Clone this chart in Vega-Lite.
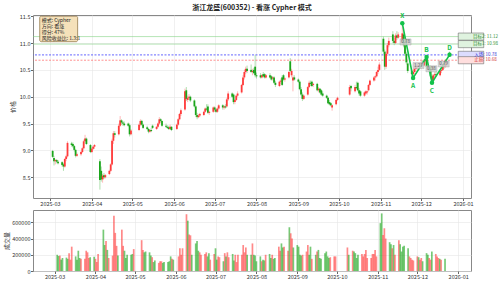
{
"$schema": "https://vega.github.io/schema/vega-lite/v6.json",
"padding": {"left": 3, "top": 3, "right": 2, "bottom": 1},
"spacing": 2,
"config": {
  "font": "Noto Sans CJK SC",
  "view": {"stroke": "#888", "strokeWidth": 1},
  "axis": {"labelFontSize": 5.5, "labelColor": "#333", "tickColor": "#666", "tickSize": 2.5, "domain": false, "gridColor": "#e6e6e6", "gridWidth": 0.6, "labelPadding": 0.5, "labelOverlap": false, "titleFontSize": 6, "titleFontWeight": "normal", "titleColor": "#333"}
},
"datasets": {
"ohlc": [
{"d":"2025-03-03","o":8.99,"h":9.01,"l":8.86,"c":8.88,"v":200000},
{"d":"2025-03-04","o":8.86,"h":8.90,"l":8.72,"c":8.80,"v":185000},
{"d":"2025-03-05","o":8.80,"h":8.84,"l":8.74,"c":8.82,"v":190000},
{"d":"2025-03-06","o":8.82,"h":8.84,"l":8.76,"c":8.79,"v":140000},
{"d":"2025-03-07","o":8.79,"h":8.82,"l":8.74,"c":8.76,"v":160000},
{"d":"2025-03-10","o":8.78,"h":8.80,"l":8.70,"c":8.73,"v":165000},
{"d":"2025-03-11","o":8.74,"h":8.77,"l":8.62,"c":8.70,"v":150000},
{"d":"2025-03-12","o":8.70,"h":8.86,"l":8.68,"c":8.84,"v":220000},
{"d":"2025-03-13","o":8.84,"h":8.92,"l":8.80,"c":8.89,"v":140000},
{"d":"2025-03-14","o":8.89,"h":9.17,"l":8.87,"c":9.14,"v":300000},
{"d":"2025-03-17","o":9.13,"h":9.16,"l":9.07,"c":9.10,"v":180000},
{"d":"2025-03-18","o":9.12,"h":9.15,"l":9.05,"c":9.08,"v":140000},
{"d":"2025-03-19","o":9.08,"h":9.10,"l":8.98,"c":9.01,"v":250000},
{"d":"2025-03-20","o":9.01,"h":9.03,"l":8.87,"c":8.90,"v":160000},
{"d":"2025-03-21","o":8.90,"h":8.96,"l":8.88,"c":8.93,"v":150000},
{"d":"2025-03-24","o":8.93,"h":8.99,"l":8.90,"c":8.97,"v":150000},
{"d":"2025-03-25","o":8.97,"h":9.06,"l":8.95,"c":9.04,"v":250000},
{"d":"2025-03-26","o":9.04,"h":9.20,"l":9.02,"c":9.17,"v":230000},
{"d":"2025-03-27","o":9.17,"h":9.29,"l":9.15,"c":9.22,"v":160000},
{"d":"2025-03-28","o":9.22,"h":9.24,"l":9.10,"c":9.12,"v":170000},
{"d":"2025-03-31","o":9.10,"h":9.12,"l":8.95,"c":8.97,"v":175000},
{"d":"2025-04-01","o":8.97,"h":9.05,"l":8.95,"c":9.03,"v":150000},
{"d":"2025-04-02","o":9.03,"h":9.09,"l":9.01,"c":9.07,"v":110000},
{"d":"2025-04-03","o":9.07,"h":9.12,"l":9.03,"c":9.10,"v":210000},
{"d":"2025-04-07","o":8.80,"h":8.84,"l":8.27,"c":8.45,"v":510000},
{"d":"2025-04-08","o":8.62,"h":8.70,"l":8.42,"c":8.46,"v":320000},
{"d":"2025-04-09","o":8.46,"h":8.56,"l":8.40,"c":8.53,"v":370000},
{"d":"2025-04-10","o":8.54,"h":8.58,"l":8.47,"c":8.50,"v":260000},
{"d":"2025-04-11","o":8.50,"h":8.56,"l":8.48,"c":8.54,"v":160000},
{"d":"2025-04-14","o":8.56,"h":8.64,"l":8.54,"c":8.62,"v":190000},
{"d":"2025-04-15","o":8.62,"h":8.76,"l":8.60,"c":8.74,"v":680000},
{"d":"2025-04-16","o":8.74,"h":9.22,"l":8.72,"c":9.18,"v":470000},
{"d":"2025-04-17","o":9.18,"h":9.36,"l":9.12,"c":9.32,"v":310000},
{"d":"2025-04-18","o":9.32,"h":9.36,"l":9.24,"c":9.29,"v":190000},
{"d":"2025-04-21","o":9.30,"h":9.50,"l":9.28,"c":9.46,"v":510000},
{"d":"2025-04-22","o":9.46,"h":9.64,"l":9.44,"c":9.56,"v":310000},
{"d":"2025-04-23","o":9.56,"h":9.58,"l":9.48,"c":9.52,"v":250000},
{"d":"2025-04-24","o":9.52,"h":9.55,"l":9.46,"c":9.50,"v":160000},
{"d":"2025-04-25","o":9.50,"h":9.54,"l":9.45,"c":9.47,"v":200000},
{"d":"2025-04-28","o":9.50,"h":9.52,"l":9.44,"c":9.46,"v":200000},
{"d":"2025-04-29","o":9.47,"h":9.50,"l":9.26,"c":9.30,"v":210000},
{"d":"2025-04-30","o":9.30,"h":9.40,"l":9.28,"c":9.37,"v":270000},
{"d":"2025-05-06","o":9.38,"h":9.50,"l":9.36,"c":9.48,"v":380000},
{"d":"2025-05-07","o":9.48,"h":9.58,"l":9.45,"c":9.55,"v":260000},
{"d":"2025-05-08","o":9.55,"h":9.57,"l":9.46,"c":9.48,"v":230000},
{"d":"2025-05-09","o":9.48,"h":9.50,"l":9.40,"c":9.42,"v":240000},
{"d":"2025-05-12","o":9.43,"h":9.46,"l":9.38,"c":9.40,"v":230000},
{"d":"2025-05-13","o":9.40,"h":9.42,"l":9.32,"c":9.35,"v":190000},
{"d":"2025-05-14","o":9.35,"h":9.40,"l":9.33,"c":9.38,"v":170000},
{"d":"2025-05-15","o":9.38,"h":9.42,"l":9.34,"c":9.36,"v":110000},
{"d":"2025-05-16","o":9.46,"h":9.48,"l":9.40,"c":9.42,"v":130000},
{"d":"2025-05-19","o":9.40,"h":9.46,"l":9.38,"c":9.44,"v":100000},
{"d":"2025-05-20","o":9.44,"h":9.52,"l":9.42,"c":9.50,"v":120000},
{"d":"2025-05-21","o":9.50,"h":9.62,"l":9.48,"c":9.58,"v":120000},
{"d":"2025-05-22","o":9.58,"h":9.60,"l":9.52,"c":9.55,"v":100000},
{"d":"2025-05-23","o":9.55,"h":9.56,"l":9.44,"c":9.46,"v":110000},
{"d":"2025-05-26","o":9.46,"h":9.50,"l":9.42,"c":9.44,"v":110000},
{"d":"2025-05-27","o":9.44,"h":9.47,"l":9.40,"c":9.42,"v":120000},
{"d":"2025-05-28","o":9.43,"h":9.46,"l":9.38,"c":9.40,"v":180000},
{"d":"2025-05-29","o":9.40,"h":9.48,"l":9.38,"c":9.44,"v":150000},
{"d":"2025-05-30","o":9.44,"h":9.45,"l":9.36,"c":9.38,"v":140000},
{"d":"2025-06-03","o":9.40,"h":9.50,"l":9.38,"c":9.48,"v":180000},
{"d":"2025-06-04","o":9.48,"h":9.60,"l":9.46,"c":9.58,"v":280000},
{"d":"2025-06-05","o":9.58,"h":9.70,"l":9.56,"c":9.68,"v":200000},
{"d":"2025-06-06","o":9.68,"h":9.78,"l":9.64,"c":9.75,"v":280000},
{"d":"2025-06-09","o":9.76,"h":10.15,"l":9.74,"c":10.10,"v":700000},
{"d":"2025-06-10","o":10.12,"h":10.18,"l":9.92,"c":9.96,"v":620000},
{"d":"2025-06-11","o":9.94,"h":10.02,"l":9.90,"c":9.98,"v":450000},
{"d":"2025-06-12","o":9.98,"h":10.05,"l":9.94,"c":10.00,"v":440000},
{"d":"2025-06-13","o":10.00,"h":10.02,"l":9.90,"c":9.93,"v":200000},
{"d":"2025-06-16","o":9.93,"h":9.95,"l":9.80,"c":9.82,"v":340000},
{"d":"2025-06-17","o":9.82,"h":9.84,"l":9.62,"c":9.66,"v":370000},
{"d":"2025-06-18","o":9.66,"h":9.70,"l":9.58,"c":9.62,"v":250000},
{"d":"2025-06-19","o":9.62,"h":9.68,"l":9.60,"c":9.65,"v":230000},
{"d":"2025-06-20","o":9.65,"h":9.70,"l":9.62,"c":9.68,"v":200000},
{"d":"2025-06-23","o":9.66,"h":9.74,"l":9.64,"c":9.72,"v":210000},
{"d":"2025-06-24","o":9.72,"h":9.80,"l":9.70,"c":9.78,"v":230000},
{"d":"2025-06-25","o":9.78,"h":9.86,"l":9.74,"c":9.76,"v":180000},
{"d":"2025-06-26","o":9.82,"h":9.86,"l":9.68,"c":9.70,"v":220000},
{"d":"2025-06-27","o":9.70,"h":9.74,"l":9.66,"c":9.72,"v":140000},
{"d":"2025-06-30","o":9.72,"h":9.82,"l":9.70,"c":9.80,"v":210000},
{"d":"2025-07-01","o":9.80,"h":9.82,"l":9.72,"c":9.76,"v":280000},
{"d":"2025-07-02","o":9.76,"h":9.78,"l":9.70,"c":9.72,"v":140000},
{"d":"2025-07-03","o":9.72,"h":9.80,"l":9.70,"c":9.78,"v":180000},
{"d":"2025-07-04","o":9.78,"h":9.86,"l":9.76,"c":9.84,"v":170000},
{"d":"2025-07-07","o":9.84,"h":9.86,"l":9.76,"c":9.80,"v":120000},
{"d":"2025-07-08","o":9.80,"h":9.84,"l":9.76,"c":9.82,"v":220000},
{"d":"2025-07-09","o":9.82,"h":9.86,"l":9.78,"c":9.80,"v":180000},
{"d":"2025-07-10","o":9.82,"h":9.98,"l":9.80,"c":9.95,"v":230000},
{"d":"2025-07-11","o":9.95,"h":10.10,"l":9.92,"c":10.06,"v":170000},
{"d":"2025-07-14","o":10.06,"h":10.08,"l":9.98,"c":10.00,"v":210000},
{"d":"2025-07-15","o":10.04,"h":10.06,"l":9.86,"c":9.90,"v":130000},
{"d":"2025-07-16","o":9.90,"h":9.96,"l":9.86,"c":9.94,"v":200000},
{"d":"2025-07-17","o":9.94,"h":10.04,"l":9.92,"c":10.02,"v":110000},
{"d":"2025-07-18","o":10.02,"h":10.10,"l":10.00,"c":10.06,"v":200000},
{"d":"2025-07-21","o":10.08,"h":10.24,"l":10.06,"c":10.22,"v":200000},
{"d":"2025-07-22","o":10.22,"h":10.40,"l":10.20,"c":10.36,"v":320000},
{"d":"2025-07-23","o":10.36,"h":10.50,"l":10.32,"c":10.46,"v":230000},
{"d":"2025-07-24","o":10.46,"h":10.56,"l":10.42,"c":10.52,"v":290000},
{"d":"2025-07-25","o":10.52,"h":10.58,"l":10.44,"c":10.48,"v":200000},
{"d":"2025-07-28","o":10.50,"h":10.60,"l":10.44,"c":10.46,"v":200000},
{"d":"2025-07-29","o":10.46,"h":10.52,"l":10.40,"c":10.48,"v":340000},
{"d":"2025-07-30","o":10.50,"h":10.54,"l":10.42,"c":10.44,"v":200000},
{"d":"2025-07-31","o":10.56,"h":10.78,"l":10.36,"c":10.40,"v":190000},
{"d":"2025-08-01","o":10.40,"h":10.45,"l":10.34,"c":10.38,"v":120000},
{"d":"2025-08-04","o":10.40,"h":10.44,"l":10.34,"c":10.36,"v":180000},
{"d":"2025-08-05","o":10.36,"h":10.42,"l":10.34,"c":10.40,"v":120000},
{"d":"2025-08-06","o":10.42,"h":10.46,"l":10.36,"c":10.38,"v":140000},
{"d":"2025-08-07","o":10.42,"h":10.44,"l":10.34,"c":10.36,"v":130000},
{"d":"2025-08-08","o":10.36,"h":10.42,"l":10.34,"c":10.40,"v":200000},
{"d":"2025-08-11","o":10.40,"h":10.44,"l":10.34,"c":10.36,"v":210000},
{"d":"2025-08-12","o":10.38,"h":10.40,"l":10.30,"c":10.32,"v":160000},
{"d":"2025-08-13","o":10.34,"h":10.38,"l":10.30,"c":10.36,"v":200000},
{"d":"2025-08-14","o":10.36,"h":10.38,"l":10.24,"c":10.26,"v":150000},
{"d":"2025-08-15","o":10.26,"h":10.30,"l":10.18,"c":10.22,"v":160000},
{"d":"2025-08-18","o":10.20,"h":10.30,"l":10.18,"c":10.28,"v":300000},
{"d":"2025-08-19","o":10.28,"h":10.34,"l":10.24,"c":10.30,"v":250000},
{"d":"2025-08-20","o":10.36,"h":10.40,"l":10.20,"c":10.22,"v":340000},
{"d":"2025-08-21","o":10.40,"h":10.42,"l":10.30,"c":10.32,"v":290000},
{"d":"2025-08-22","o":10.32,"h":10.36,"l":10.28,"c":10.34,"v":300000},
{"d":"2025-08-25","o":10.36,"h":10.48,"l":10.34,"c":10.46,"v":250000},
{"d":"2025-08-26","o":10.66,"h":10.72,"l":10.46,"c":10.48,"v":540000},
{"d":"2025-08-27","o":10.40,"h":10.52,"l":10.36,"c":10.48,"v":465000},
{"d":"2025-08-28","o":10.30,"h":10.40,"l":10.10,"c":10.36,"v":400000},
{"d":"2025-08-29","o":10.36,"h":10.40,"l":10.30,"c":10.32,"v":290000},
{"d":"2025-09-01","o":10.32,"h":10.34,"l":10.26,"c":10.28,"v":320000},
{"d":"2025-09-02","o":10.28,"h":10.30,"l":10.12,"c":10.14,"v":300000},
{"d":"2025-09-03","o":10.14,"h":10.18,"l":10.02,"c":10.04,"v":200000},
{"d":"2025-09-04","o":10.04,"h":10.08,"l":9.92,"c":9.96,"v":190000},
{"d":"2025-09-05","o":9.96,"h":10.04,"l":9.94,"c":10.02,"v":200000},
{"d":"2025-09-08","o":10.04,"h":10.20,"l":10.02,"c":10.18,"v":240000},
{"d":"2025-09-09","o":10.18,"h":10.30,"l":10.16,"c":10.26,"v":320000},
{"d":"2025-09-10","o":10.26,"h":10.30,"l":10.20,"c":10.24,"v":200000},
{"d":"2025-09-11","o":10.28,"h":10.30,"l":10.18,"c":10.20,"v":300000},
{"d":"2025-09-12","o":10.22,"h":10.26,"l":10.18,"c":10.24,"v":150000},
{"d":"2025-09-15","o":10.24,"h":10.26,"l":10.10,"c":10.12,"v":200000},
{"d":"2025-09-16","o":10.12,"h":10.18,"l":10.08,"c":10.15,"v":240000},
{"d":"2025-09-17","o":10.15,"h":10.16,"l":10.06,"c":10.08,"v":260000},
{"d":"2025-09-18","o":10.12,"h":10.14,"l":10.02,"c":10.04,"v":160000},
{"d":"2025-09-19","o":10.06,"h":10.10,"l":10.00,"c":10.02,"v":150000},
{"d":"2025-09-22","o":10.02,"h":10.04,"l":9.96,"c":9.98,"v":220000},
{"d":"2025-09-23","o":9.98,"h":10.00,"l":9.86,"c":9.88,"v":240000},
{"d":"2025-09-24","o":9.90,"h":9.94,"l":9.84,"c":9.86,"v":180000},
{"d":"2025-09-25","o":9.88,"h":9.90,"l":9.82,"c":9.84,"v":160000},
{"d":"2025-09-26","o":9.80,"h":9.86,"l":9.74,"c":9.84,"v":170000},
{"d":"2025-09-29","o":9.86,"h":9.96,"l":9.84,"c":9.94,"v":180000},
{"d":"2025-09-30","o":9.94,"h":10.00,"l":9.92,"c":9.98,"v":180000},
{"d":"2025-10-09","o":10.04,"h":10.22,"l":10.02,"c":10.18,"v":290000},
{"d":"2025-10-10","o":10.20,"h":10.22,"l":10.10,"c":10.16,"v":200000},
{"d":"2025-10-13","o":10.10,"h":10.22,"l":10.08,"c":10.18,"v":250000},
{"d":"2025-10-14","o":10.18,"h":10.28,"l":10.14,"c":10.16,"v":240000},
{"d":"2025-10-15","o":10.26,"h":10.28,"l":10.10,"c":10.12,"v":220000},
{"d":"2025-10-16","o":10.12,"h":10.16,"l":10.02,"c":10.06,"v":160000},
{"d":"2025-10-17","o":10.10,"h":10.12,"l":10.00,"c":10.02,"v":200000},
{"d":"2025-10-20","o":10.02,"h":10.10,"l":10.00,"c":10.08,"v":210000},
{"d":"2025-10-21","o":10.06,"h":10.12,"l":10.04,"c":10.10,"v":180000},
{"d":"2025-10-22","o":10.08,"h":10.12,"l":10.04,"c":10.10,"v":210000},
{"d":"2025-10-23","o":10.12,"h":10.24,"l":10.10,"c":10.22,"v":260000},
{"d":"2025-10-24","o":10.22,"h":10.32,"l":10.20,"c":10.30,"v":160000},
{"d":"2025-10-27","o":10.30,"h":10.38,"l":10.28,"c":10.36,"v":160000},
{"d":"2025-10-28","o":10.36,"h":10.40,"l":10.30,"c":10.38,"v":210000},
{"d":"2025-10-29","o":10.38,"h":10.48,"l":10.36,"c":10.46,"v":210000},
{"d":"2025-10-30","o":10.46,"h":10.56,"l":10.42,"c":10.50,"v":260000},
{"d":"2025-10-31","o":10.50,"h":10.64,"l":10.48,"c":10.60,"v":180000},
{"d":"2025-11-03","o":11.08,"h":11.12,"l":10.80,"c":10.84,"v":590000},
{"d":"2025-11-04","o":10.84,"h":10.88,"l":10.50,"c":10.56,"v":710000},
{"d":"2025-11-05","o":10.56,"h":10.84,"l":10.52,"c":10.80,"v":445000},
{"d":"2025-11-06","o":10.80,"h":11.00,"l":10.76,"c":10.96,"v":527000},
{"d":"2025-11-07","o":10.96,"h":11.10,"l":10.92,"c":11.04,"v":400000},
{"d":"2025-11-10","o":11.16,"h":11.22,"l":11.00,"c":11.04,"v":355000},
{"d":"2025-11-11","o":11.04,"h":11.10,"l":10.96,"c":11.00,"v":330000},
{"d":"2025-11-12","o":11.00,"h":11.18,"l":10.98,"c":11.14,"v":280000},
{"d":"2025-11-13","o":11.14,"h":11.22,"l":11.06,"c":11.10,"v":320000},
{"d":"2025-11-14","o":11.10,"h":11.20,"l":11.08,"c":11.16,"v":200000},
{"d":"2025-11-17","o":11.04,"h":11.37,"l":11.00,"c":11.18,"v":380000},
{"d":"2025-11-18","o":11.16,"h":11.20,"l":10.92,"c":10.96,"v":330000},
{"d":"2025-11-19","o":10.96,"h":11.00,"l":10.76,"c":10.80,"v":240000},
{"d":"2025-11-20","o":10.80,"h":10.84,"l":10.60,"c":10.64,"v":300000},
{"d":"2025-11-21","o":10.62,"h":10.66,"l":10.44,"c":10.48,"v":310000},
{"d":"2025-11-24","o":10.48,"h":10.52,"l":10.38,"c":10.42,"v":280000},
{"d":"2025-11-25","o":10.42,"h":10.50,"l":10.35,"c":10.46,"v":180000},
{"d":"2025-11-26","o":10.46,"h":10.56,"l":10.42,"c":10.52,"v":160000},
{"d":"2025-11-27","o":10.52,"h":10.60,"l":10.46,"c":10.56,"v":140000},
{"d":"2025-11-28","o":10.56,"h":10.62,"l":10.50,"c":10.58,"v":130000},
{"d":"2025-12-01","o":10.58,"h":10.66,"l":10.52,"c":10.62,"v":180000},
{"d":"2025-12-02","o":10.62,"h":10.68,"l":10.54,"c":10.58,"v":170000},
{"d":"2025-12-03","o":10.58,"h":10.70,"l":10.56,"c":10.66,"v":140000},
{"d":"2025-12-04","o":10.66,"h":10.72,"l":10.60,"c":10.70,"v":160000},
{"d":"2025-12-05","o":10.70,"h":10.74,"l":10.52,"c":10.56,"v":120000},
{"d":"2025-12-08","o":10.56,"h":10.58,"l":10.34,"c":10.38,"v":220000},
{"d":"2025-12-09","o":10.38,"h":10.42,"l":10.26,"c":10.30,"v":200000},
{"d":"2025-12-10","o":10.30,"h":10.42,"l":10.28,"c":10.40,"v":160000},
{"d":"2025-12-11","o":10.40,"h":10.46,"l":10.36,"c":10.42,"v":140000},
{"d":"2025-12-12","o":10.42,"h":10.48,"l":10.38,"c":10.40,"v":240000},
{"d":"2025-12-15","o":10.40,"h":10.50,"l":10.38,"c":10.48,"v":210000},
{"d":"2025-12-16","o":10.48,"h":10.54,"l":10.44,"c":10.50,"v":180000},
{"d":"2025-12-17","o":10.50,"h":10.60,"l":10.48,"c":10.58,"v":160000},
{"d":"2025-12-18","o":10.58,"h":10.64,"l":10.52,"c":10.56,"v":150000},
{"d":"2025-12-19","o":10.56,"h":10.70,"l":10.54,"c":10.68,"v":140000},
{"d":"2025-12-22","o":10.82,"h":10.84,"l":10.74,"c":10.78,"v":150000}
],
"levels": [
{"k":"目标2","v":11.12,"t":"目标2: 11.12"},
{"k":"目标1","v":10.98,"t":"目标1: 10.98"},
{"k":"入场","v":10.78,"t":"入场: 10.78"},
{"k":"止损","v":10.68,"t":"止损: 10.68"}
],
"pattern": [
{"p":"X","d":"2025-11-17","y":11.37},
{"p":"A","d":"2025-11-25","y":10.35},
{"p":"B","d":"2025-12-05","y":10.74},
{"p":"C","d":"2025-12-09","y":10.26},
{"p":"D","d":"2025-12-22","y":10.78}
],
"ratios": [
{"d":"2025-11-19T10:00:00Z","y":11.02,"t":"0.78"},
{"d":"2025-11-29T00:00:00Z","y":10.58,"t":"1.27"},
{"d":"2025-12-08T14:00:00Z","y":10.52,"t":"0.38"},
{"d":"2025-12-17T16:00:00Z","y":10.61,"t":"0.79"}
],
"info": [
{"t": ["模式: Cypher", "方向: 看涨", "得分: 47%", "风险收益比: 1.3:1"]}
]
},
"vconcat": [
{
"width": 438, "height": 183,
"title": {"text": "浙江龙盛(600352) - 看涨 Cypher 模式", "fontSize": 7, "fontWeight": "bold", "frame": "group", "anchor": "middle", "offset": 2, "color": "#222"},
"layer": [
{"data": {"name": "ohlc"},
 "mark": {"type": "rule", "strokeWidth": 0.8, "opacity": 0.45},
 "encoding": {
   "x": {"field": "d", "type": "temporal", "title": null,
     "scale": {"type": "utc", "domain": [{"year":2025,"month":2,"date":16,"hours":10,"minutes":30,"utc":true},{"year":2026,"month":1,"date":6,"hours":21,"minutes":30,"utc":true}]},
     "axis": {"format": "%Y-%m", "grid": true, "labelFlush": false, "tickCount": 20, "values": [
       {"year":2025,"month":3,"date":1,"utc":true},{"year":2025,"month":4,"date":1,"utc":true},{"year":2025,"month":5,"date":1,"utc":true},{"year":2025,"month":6,"date":1,"utc":true},{"year":2025,"month":7,"date":1,"utc":true},{"year":2025,"month":8,"date":1,"utc":true},{"year":2025,"month":9,"date":1,"utc":true},{"year":2025,"month":10,"date":1,"utc":true},{"year":2025,"month":11,"date":1,"utc":true},{"year":2025,"month":12,"date":1,"utc":true},{"year":2026,"month":1,"date":1,"utc":true}]}},
   "y": {"field": "l", "type": "quantitative", "title": "价格",
     "scale": {"domain": [8.114, 11.522], "nice": false, "zero": false},
     "axis": {"values": [8.5, 9, 9.5, 10, 10.5, 11, 11.5], "tickCount": 20, "format": ".1f", "grid": true, "titlePadding": 4}},
   "y2": {"field": "h"},
   "color": {"condition": {"test": "datum.c >= datum.o", "value": "#ff3b3b"}, "value": "#1ba51b"}
 }},
{"data": {"name": "levels"}, "transform": [{"filter": "datum.k == '目标2' || datum.k == '目标1'"}],
 "mark": {"type": "rule", "color": "#7cd07c", "strokeWidth": 0.8, "opacity": 0.7},
 "encoding": {"y": {"field": "v", "type": "quantitative"}}},
{"data": {"name": "levels"}, "transform": [{"filter": "datum.k == '入场'"}],
 "mark": {"type": "rule", "color": "#5050ff", "strokeWidth": 1.2, "strokeDash": [2, 1.5], "opacity": 0.7},
 "encoding": {"y": {"field": "v", "type": "quantitative"}}},
{"data": {"name": "levels"}, "transform": [{"filter": "datum.k == '止损'"}],
 "mark": {"type": "rule", "color": "#ff5050", "strokeWidth": 0.8, "strokeDash": [2, 1.5], "opacity": 0.8},
 "encoding": {"y": {"field": "v", "type": "quantitative"}}},
{"data": {"name": "ohlc"},
 "mark": {"type": "rule", "strokeWidth": 1.8},
 "encoding": {
   "x": {"field": "d", "type": "temporal"},
   "y": {"field": "o", "type": "quantitative"},
   "y2": {"field": "c"},
   "color": {"condition": {"test": "datum.c >= datum.o", "value": "#ff3b3b"}, "value": "#1ba51b"}
 }},
{"data": {"name": "pattern"},
 "mark": {"type": "line", "color": "#12c24a", "strokeWidth": 1.6},
 "encoding": {"x": {"field": "d", "type": "temporal"}, "y": {"field": "y", "type": "quantitative"}, "order": {"field": "d", "type": "temporal"}}},
{"data": {"name": "pattern"},
 "mark": {"type": "point", "filled": true, "color": "#12c24a", "size": 20, "opacity": 1},
 "encoding": {"x": {"field": "d", "type": "temporal"}, "y": {"field": "y", "type": "quantitative"}}},
{"data": {"name": "pattern"}, "transform": [{"filter": "datum.p == 'X' || datum.p == 'B' || datum.p == 'D'"}],
 "mark": {"type": "text", "color": "#12c24a", "fontSize": 6.5, "fontWeight": "bold", "dy": -7},
 "encoding": {"x": {"field": "d", "type": "temporal"}, "y": {"field": "y", "type": "quantitative"}, "text": {"field": "p"}}},
{"data": {"name": "pattern"}, "transform": [{"filter": "datum.p == 'A' || datum.p == 'C'"}],
 "mark": {"type": "text", "color": "#12c24a", "fontSize": 6.5, "fontWeight": "bold", "dy": 8},
 "encoding": {"x": {"field": "d", "type": "temporal"}, "y": {"field": "y", "type": "quantitative"}, "text": {"field": "p"}}},
{"data": {"name": "ratios"},
 "mark": {"type": "point", "shape": "M-1,-0.55L1,-0.55L1,0.55L-1,0.55Z", "filled": true, "color": "#cfcfcf", "stroke": "#999", "strokeWidth": 0.4, "size": 121, "opacity": 0.85},
 "encoding": {"x": {"field": "d", "type": "temporal"}, "y": {"field": "y", "type": "quantitative"}}},
{"data": {"name": "ratios"},
 "mark": {"type": "text", "color": "#555", "fontSize": 4.5},
 "encoding": {"x": {"field": "d", "type": "temporal"}, "y": {"field": "y", "type": "quantitative"}, "text": {"field": "t"}}},
{"data": {"name": "levels"},
 "mark": {"type": "point", "shape": "M-1,-0.28L1,-0.28L1,0.28L-1,0.28Z", "filled": true, "size": 650, "strokeWidth": 0.6, "opacity": 1, "dx": 14.5},
 "encoding": {"x": {"datum": {"year":2026,"month":1,"date":6,"hours":21,"minutes":30,"utc":true}, "type": "temporal"},
   "y": {"field": "v", "type": "quantitative"},
   "fill": {"field": "k", "type": "nominal", "scale": {"domain": ["目标2","目标1","入场","止损"], "range": ["#dff3df","#dff3df","#dcdcff","#ffdede"]}, "legend": null},
   "stroke": {"field": "k", "type": "nominal", "scale": {"domain": ["目标2","目标1","入场","止损"], "range": ["#6c6c6c","#6c6c6c","#6c6c6c","#6c6c6c"]}, "legend": null}}},
{"data": {"name": "levels"},
 "mark": {"type": "text", "fontSize": 4.5, "dx": 14.5},
 "encoding": {"x": {"datum": {"year":2026,"month":1,"date":6,"hours":21,"minutes":30,"utc":true}, "type": "temporal"},
   "y": {"field": "v", "type": "quantitative"},
   "text": {"field": "t"},
   "color": {"field": "k", "type": "nominal", "scale": {"domain": ["目标2","目标1","入场","止损"], "range": ["#2f8f2f","#2f8f2f","#3030d0","#d03030"]}, "legend": null}}},
{"data": {"name": "info"},
 "mark": {"type": "rect", "fill": "#f5deb3", "stroke": "#8a6d3b", "strokeWidth": 0.8, "opacity": 0.9, "cornerRadius": 1.5},
 "encoding": {"x": {"datum": {"year":2025,"month":2,"date":21,"hours":10,"utc":true}, "type": "temporal"},
   "x2": {"datum": {"year":2025,"month":3,"date":21,"hours":12,"utc":true}},
   "y": {"datum": 11.5, "type": "quantitative"},
   "y2": {"datum": 11.025}}},
{"data": {"name": "info"},
 "mark": {"type": "text", "fontSize": 5, "align": "left", "baseline": "top", "lineHeight": 6, "color": "#222"},
 "encoding": {"x": {"datum": {"year":2025,"month":2,"date":22,"hours":20,"utc":true}, "type": "temporal"},
   "y": {"datum": 11.475, "type": "quantitative"},
   "text": {"field": "t"}}}
]
},
{
"width": 438, "height": 61,
"data": {"name": "ohlc"},
"mark": {"type": "bar", "size": 1.7, "opacity": 0.6},
"encoding": {
  "x": {"field": "d", "type": "temporal", "title": null,
    "scale": {"type": "utc", "domain": [{"year":2025,"month":2,"date":16,"hours":10,"minutes":30,"utc":true},{"year":2026,"month":1,"date":6,"hours":21,"minutes":30,"utc":true}]},
    "axis": {"format": "%Y-%m", "grid": true, "labelFlush": false, "tickCount": 20, "values": [
       {"year":2025,"month":3,"date":1,"utc":true},{"year":2025,"month":4,"date":1,"utc":true},{"year":2025,"month":5,"date":1,"utc":true},{"year":2025,"month":6,"date":1,"utc":true},{"year":2025,"month":7,"date":1,"utc":true},{"year":2025,"month":8,"date":1,"utc":true},{"year":2025,"month":9,"date":1,"utc":true},{"year":2025,"month":10,"date":1,"utc":true},{"year":2025,"month":11,"date":1,"utc":true},{"year":2025,"month":12,"date":1,"utc":true},{"year":2026,"month":1,"date":1,"utc":true}]}},
  "y": {"field": "v", "type": "quantitative", "title": "成交量",
    "scale": {"domain": [0, 752000], "nice": false},
    "axis": {"values": [0, 200000, 400000, 600000], "tickCount": 20, "format": "d", "grid": true, "titlePadding": 2}},
  "color": {"condition": {"test": "datum.c >= datum.o", "value": "#ff3b3b"}, "value": "#1ba51b"}
}
}
]
}
